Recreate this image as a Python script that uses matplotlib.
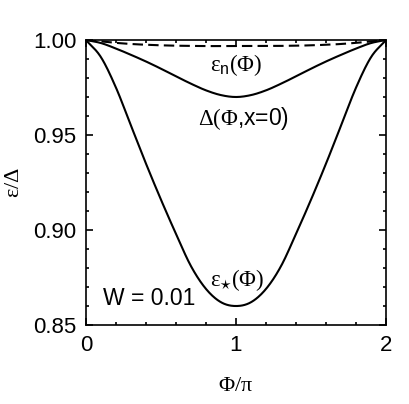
import numpy as np
import matplotlib
matplotlib.use('Agg')
import matplotlib.pyplot as plt
from matplotlib.ticker import MultipleLocator

plt.rcParams['font.family'] = ['Liberation Sans', 'DejaVu Sans']
plt.rcParams['mathtext.fontset'] = 'custom'
plt.rcParams['mathtext.rm'] = 'Liberation Serif'
plt.rcParams['mathtext.it'] = 'Liberation Serif'
plt.rcParams['mathtext.sf'] = 'Liberation Sans'

# data (left half, curves are symmetric about phi = 1)
phi_half = [0.0, 0.1, 0.2, 0.3, 0.4, 0.5, 0.6, 0.7, 0.8, 0.9, 1.0]
eps_star_half = [1.0, 0.991, 0.975, 0.955, 0.935, 0.916, 0.898, 0.881, 0.869, 0.862, 0.860]
delta_half = [1.0, 0.9984, 0.9955, 0.9922, 0.9887, 0.9849, 0.9809, 0.9770, 0.9735, 0.9710, 0.9700]
eps_n_half = [1.0, 0.9993, 0.9985, 0.9979, 0.9975, 0.9972, 0.9970, 0.9969, 0.9968, 0.9968, 0.9968]


def mirror(x, y):
    x = np.array(x)
    y = np.array(y)
    return np.concatenate([x, 2 - x[-2::-1]]), np.concatenate([y, y[-2::-1]])


def smooth(x, y, n=400):
    # cubic hermite (catmull-rom) through the read points
    xs = np.linspace(x[0], x[-1], n)
    out = []
    for xv in xs:
        i = min(max(np.searchsorted(x, xv) - 1, 0), len(x) - 2)
        t = (xv - x[i]) / (x[i + 1] - x[i])
        p1, p2 = y[i], y[i + 1]
        m1 = (p2 - y[i - 1]) / 2 if i > 0 else p2 - p1
        m2 = (y[i + 2] - p1) / 2 if i + 2 < len(x) else p2 - p1
        h00 = 2*t**3 - 3*t**2 + 1
        h10 = t**3 - 2*t**2 + t
        h01 = -2*t**3 + 3*t**2
        h11 = t**3 - t**2
        out.append(h00*p1 + h10*m1 + h01*p2 + h11*m2)
    return xs, np.array(out)


fig = plt.figure(figsize=(4.09, 4.04), dpi=100)
ax = fig.add_axes([0.210, 0.1955, 0.734, 0.7055])

for yy, ls in [(eps_star_half, '-'), (delta_half, '-'), (eps_n_half, (0, (5, 2.5)))]:
    x, y = mirror(phi_half, yy)
    xs, ys = smooth(x, y)
    ax.plot(xs, ys, color='black', lw=1.5, linestyle=ls)

ax.set_xlim(0, 2)
ax.set_ylim(0.85, 1.0)
ax.xaxis.set_major_locator(MultipleLocator(1))
ax.xaxis.set_minor_locator(MultipleLocator(0.2))
ax.yaxis.set_major_locator(MultipleLocator(0.05))
ax.yaxis.set_minor_locator(MultipleLocator(0.01))
ax.yaxis.set_major_formatter(plt.FormatStrFormatter('%.2f'))
ax.tick_params(which='both', direction='in', top=True, right=True, labelsize=16, width=1.2)
ax.tick_params(which='major', length=5, pad=7)
ax.tick_params(which='minor', length=2.5)
for s in ax.spines.values():
    s.set_linewidth(1.2)

ax.set_xlabel(r'$\Phi/\pi$', fontsize=16, labelpad=14)
ax.set_ylabel(r'$\varepsilon/\Delta$', fontsize=16, labelpad=6)

ax.text(1.0, 0.9868, r'$\varepsilon_{\mathsf{n}}(\Phi)$', fontsize=16.5, ha='center', va='center')
ax.text(1.053, 0.9587, r'$\Delta(\Phi$,x=0)', fontsize=16.5, ha='center', va='center')
ax.text(1.01, 0.8737, r'$\varepsilon_{\star}(\Phi)$', fontsize=16.5, ha='center', va='center')
ax.text(0.42, 0.864, 'W = 0.01', fontsize=16.5, ha='center', va='center')

fig.savefig('out.png', dpi=100)
